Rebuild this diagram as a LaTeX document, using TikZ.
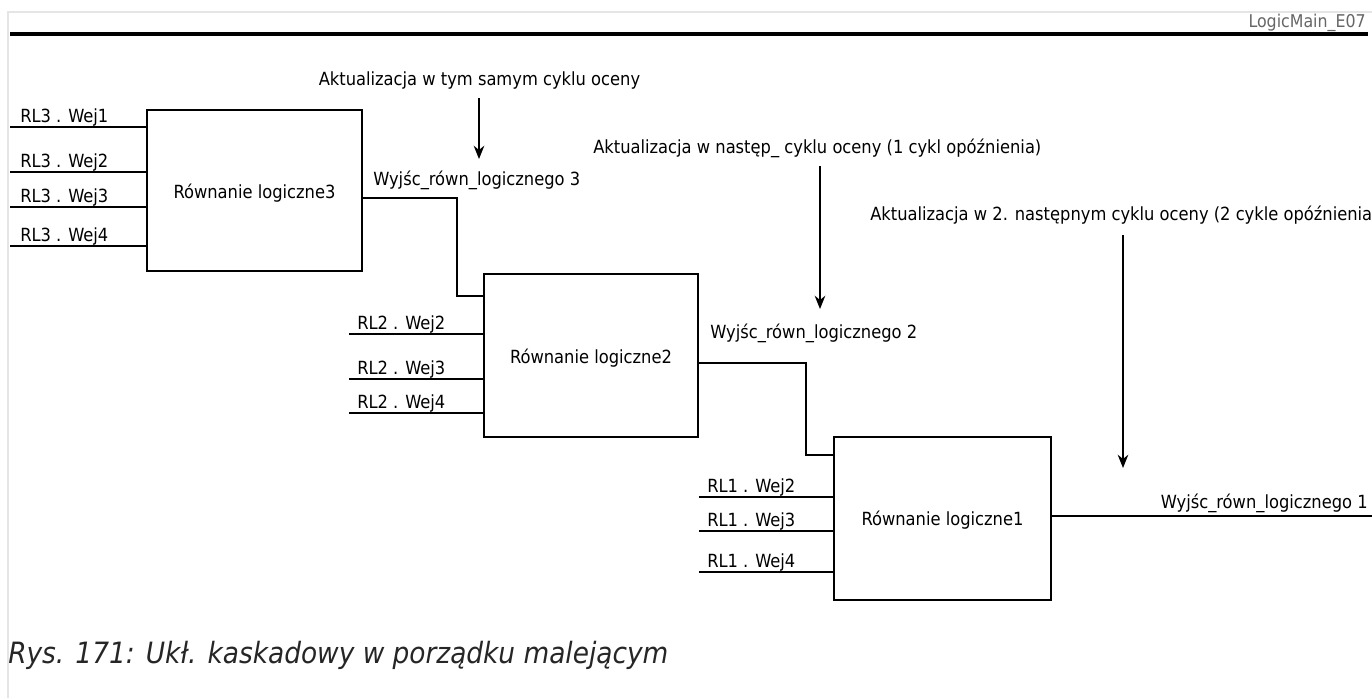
\documentclass[tikz,border=0pt]{standalone}
\usepackage{fontspec}
\setmainfont{DejaVu Sans Condensed}
\usetikzlibrary{arrows.meta}
\begin{document}
\begin{tikzpicture}[x=0.75pt,y=-0.75pt,
  blk/.style={draw,line width=1.1pt,minimum width=0pt,inner sep=0pt},
  wire/.style={line width=1.1pt},
  lbl/.style={font=\fontsize{13.6}{16}\selectfont,inner sep=0pt},
  arr/.style={line width=1.1pt,-{Stealth[length=10pt,width=8pt]}},
  hdr/.style={font=\fontsize{13.2}{16}\selectfont,text=black!60,inner sep=0pt}]
\useasboundingbox (0,0) rectangle (1372,697);
\fill[white] (0,0) rectangle (1372,697);
% outer frame
\draw[black!10,line width=1.2pt] (8,700) -- (8,12) -- (1380,12);
\node[hdr,anchor=base east] (hdr) at (1366,27) {LogicMain\_E07};
\draw[line width=2.4pt] (10,34) coordinate (tl) -- (1368,34) coordinate (tr);
% boxes
\draw[blk] (147,110) rectangle (362,271);
\node[lbl] (b3) at (254.5,193) {Równanie logiczne3};
\draw[blk] (484,274) rectangle (698,437);
\node[lbl] (b2) at (591,358) {Równanie logiczne2};
\draw[blk] (834,437) rectangle (1051,600);
\node[lbl] (b1) at (942.5,520) {Równanie logiczne1};
% RL3 inputs
\foreach \yy/\t in {127/1,172/2,207/3,246/4}{
  \draw[wire] (10,\yy) -- (147,\yy);
  \node[lbl,anchor=base west] at (20,\yy-5) {RL3 . Wej\t};
}
% RL2 inputs
\foreach \yy/\t in {334/2,379/3,413/4}{
  \draw[wire] (349,\yy) -- (484,\yy);
  \node[lbl,anchor=base west] at (357,\yy-5) {RL2 . Wej\t};
}
% RL1 inputs
\foreach \yy/\t in {497/2,531/3,572/4}{
  \draw[wire] (699,\yy) -- (834,\yy);
  \node[lbl,anchor=base west] at (707,\yy-5) {RL1 . Wej\t};
}
% outputs
\draw[wire] (362,198) -- (457,198) -- (457,296) -- (484,296);
\node[lbl,anchor=base west] (o3) at (373,185) {Wyjśc\_równ\_logicznego 3};
\draw[wire] (698,363) -- (806,363) -- (806,455) -- (834,455);
\node[lbl,anchor=base west] (o2) at (710,338) {Wyjśc\_równ\_logicznego 2};
\draw[wire] (1051,516) -- (1372,516);
\node[lbl,anchor=base east] (o1) at (1368,508) {Wyjśc\_równ\_logicznego 1};
% arrows
\node[lbl,anchor=base] (a3) at (479.5,85) {Aktualizacja w tym samym cyklu oceny};
\coordinate (a3e) at (479,159);
\draw[arr] (479,98) -- (a3e);
\node[lbl,anchor=base west] (a2) at (593,153) {Aktualizacja w następ\_ cyklu oceny (1 cykl opóźnienia)};
\coordinate (a2e) at (820,309);
\draw[arr] (820,166) -- (a2e);
\node[lbl,anchor=base west] (a1) at (870,220) {Aktualizacja w 2. następnym cyklu oceny (2 cykle opóźnienia)};
\coordinate (a1e) at (1123,468);
\draw[arr] (1123,235) -- (a1e);
% caption
\node[font=\fontsize{22}{26}\selectfont\itshape,text=black!85,anchor=base west,inner sep=0pt] (cap) at (8,663) {Rys. 171: Ukł. kaskadowy w porządku malejącym};
\end{tikzpicture}
\end{document}
